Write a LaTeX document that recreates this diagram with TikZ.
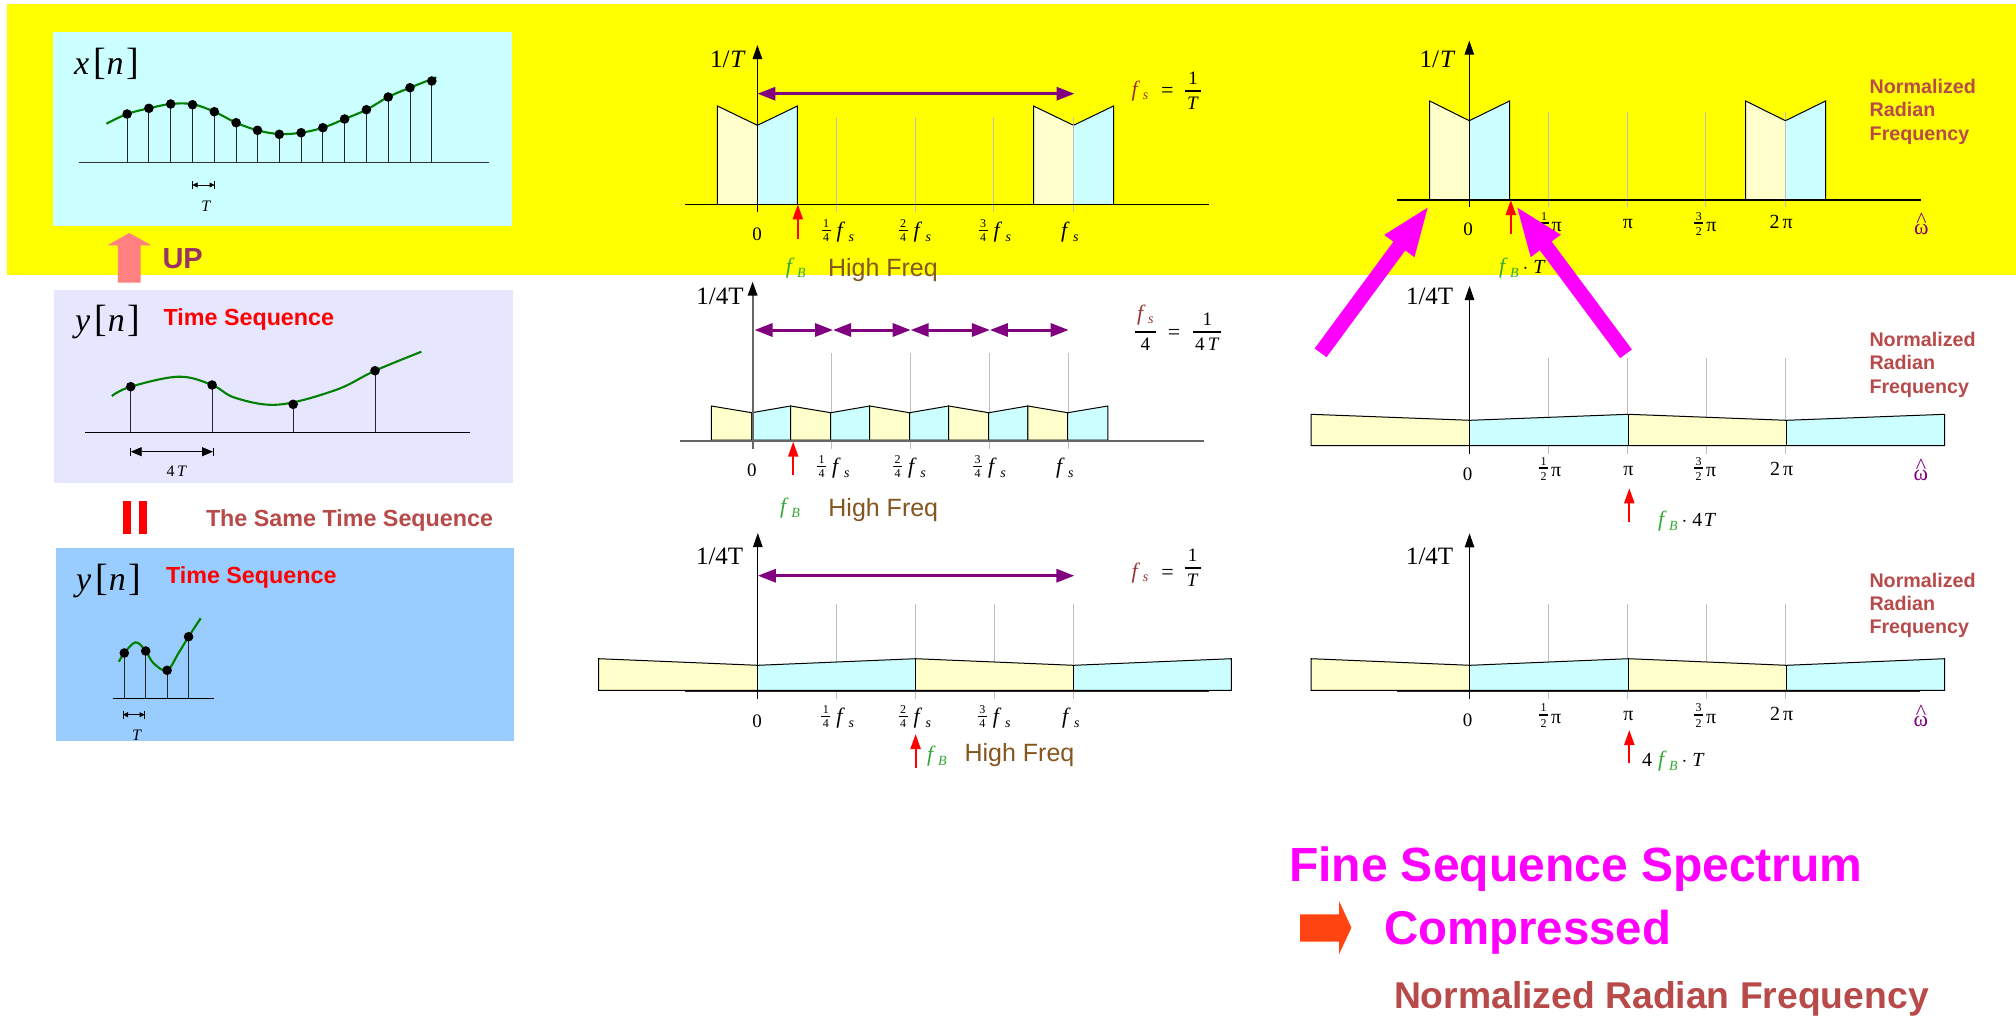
\documentclass[tikz,border=0pt]{standalone}
\usepackage{amsmath}
\usepackage{fontspec}
\setmainfont{Liberation Serif}
\newfontfamily\sansf{Liberation Sans}
\usetikzlibrary{arrows.meta}
\definecolor{band}{HTML}{FFFF00}
\definecolor{pcyan}{HTML}{CCFFFF}
\definecolor{plav}{HTML}{E6E6FF}
\definecolor{pblue}{HTML}{99CCFF}
\definecolor{byel}{HTML}{FFFFCC}
\definecolor{bcyan}{HTML}{CCFFFF}
\definecolor{wine}{HTML}{B84A4A}
\definecolor{brownf}{HTML}{85561F}
\definecolor{fsred}{HTML}{993333}
\definecolor{fbgreen}{HTML}{33A833}
\definecolor{purp}{HTML}{800080}
\definecolor{curvegreen}{HTML}{008000}
\definecolor{uparrow}{HTML}{FF8080}
\definecolor{upword}{HTML}{993366}
\definecolor{magentaX}{HTML}{FF00FF}
\definecolor{orangeX}{HTML}{FF4411}
\newcommand\fz[1]{\fontsize{#1}{#1}\selectfont}
\newcounter{lb}
\newcommand\tl[3][]{\stepcounter{lb}\node[txt,#1] (n\arabic{lb}) at (#2) {#3};}
\newcommand\link[3]{\stepcounter{lb}\coordinate (a\arabic{lb}) at (#2); \coordinate (b\arabic{lb}) at (#3); \draw[#1] (a\arabic{lb}) -- (b\arabic{lb});}
\newcommand\fsub{{\fz{22}\textit{f}}\kern3.5pt\raisebox{-4pt}{\fz{14}\textit{s}}}
\newcommand\fsbig{\color{fsred}\fz{22}\textit{f}\kern2.5pt\raisebox{-3pt}{\fz{14}\textit{s}}}
\newcommand\fB{{\color{fbgreen}{\fz{22}\textit{f}}\kern2.5pt\raisebox{-4pt}{\fz{14}\textit{B}}}}
\newcommand\fr[3][4pt]{\raisebox{#1}{$\genfrac{}{}{1.8pt}{1}{\hbox to 9pt{\hfil\fz{12}#2\hfil}}{\hbox to 9pt{\hfil\fz{12}#3\hfil}}$}}
\newcommand\bigfr[3]{$\genfrac{}{}{1.8pt}{0}{\hbox to #3{\hfil\fz{19}#1\hfil}}{\hbox{\fz{19}#2}}$}
\newcommand\seqname[1]{\fz{34}\textit{#1}\kern4pt{\fz{38}[}\kern1pt\textit{n}\kern3pt{\fz{38}]}}
\newcommand\omhat{\makebox[0pt][l]{\makebox[15pt][c]{\raisebox{6.5pt}{\^{}}}}ω}
\nulldelimiterspace=0pt
\tikzset{
  txt/.style={inner sep=0pt,outer sep=0pt,anchor=base},
  axisline/.style={line width=1pt,-{Triangle[length=14pt,width=9.5pt]}},
  axisgray/.style={line width=2pt,draw=black!60,-{Triangle[length=14pt,width=9.5pt,color=black,fill=black]}},
  baseln/.style={line width=1.2pt,draw=black},
  tickln/.style={line width=1pt,draw=black!25},
  stem/.style={line width=1pt,draw=black!85},
  curveln/.style={line width=2.1pt,draw=curvegreen},
  dotpt/.style={fill=black},
  specyel/.style={draw=black,line width=1pt,fill=byel},
  speccyan/.style={draw=black,line width=1pt,fill=bcyan},
  purparrow/.style={line width=3pt,draw=purp,{Triangle[length=18pt,width=13pt]}-{Triangle[length=18pt,width=13pt]}},
  redarrow/.style={line width=2pt,draw=red,-{Triangle[length=15pt,width=10pt]}},
  bigarrow/.style={line width=14.7pt,draw=magentaX,-{Triangle[length=51pt,width=33pt]}},
  dimsmall/.style={line width=.8pt,draw=black,{Triangle[length=5pt,width=5pt]}-{Triangle[length=5pt,width=5pt]}},
  dimlarge/.style={line width=.8pt,draw=black,{Triangle[length=11pt,width=9pt]}-{Triangle[length=11pt,width=9pt]}},
  sanslabel/.style={font=\sansf\bfseries\fz{23.3},text=red,anchor=base west},
  nrlabel/.style={font=\sansf\bfseries\fz{19.7},text=wine,anchor=base west},
  highfreq/.style={font=\sansf\fz{25},text=brownf,anchor=base west},
  scale label/.style={font=\fz{25},anchor=base west},
  digit/.style={font=\fz{19}},
  west/.style={anchor=base west},
}
\begin{document}
\begin{tikzpicture}[x=1pt,y=-1pt]
\useasboundingbox (0,0) rectangle (2016,1015);
\fill[white] (0,0) rectangle (2016,1015);
\fill[band] (7,4) rectangle (2016,275);
% panels
\fill[pcyan] (52.9,32) rectangle (512,225.5);
\fill[plav] (54,290) rectangle (512.5,483);
\fill[pblue] (55.7,548) rectangle (514.3,741);
% x[n]
\tl[anchor=base west]{74,74}{\seqname{x}}
\draw[line width=1.2pt,draw=black!80] (78.6,162.7) -- (488.6,162.7);
\foreach \px/\py in {127.1/114,148.9/108.3,170.7/104,192.5/104.7,214.3/111.7,236.1/122.7,257.5/130.3,279.3/134.3,301.1/132.7,322.9/127.7,344.6/119,366.4/109.7,388.2/97,410/87.7,431.8/81}{
  \draw[stem] (\px,162.7) -- (\px,\py);
}
\draw[curveln] plot[smooth,tension=.6] coordinates {(106.4,123.7)(127.1,114)(148.9,108.3)(170.7,104)(192.5,104.2)(214.3,111.7)(236.1,122.7)(257.5,130.3)(279.3,134)(301.1,132.7)(322.9,127.7)(344.6,119)(366.4,109.7)(388.2,97)(410,87.7)(436.4,77.3)};
\foreach \px/\py in {127.1/114,148.9/108.3,170.7/104,192.5/104.7,214.3/111.7,236.1/122.7,257.5/130.3,279.3/134.3,301.1/132.7,322.9/127.7,344.6/119,366.4/109.7,388.2/97,410/87.7,431.8/81}{
  \fill[dotpt] (\px,\py) circle (4.8pt);
}
\link{dimsmall}{192.5,185}{214.5,185}
\draw[line width=.8pt] (192.5,181) -- (192.5,189) (214.5,181) -- (214.5,189);
\tl{206.4,211.7}{\fz{16}\textit{T}}
% UP arrow
\fill[uparrow] (117.9,282.7) -- (117.9,245.3) -- (107.5,245.3) -- (129.3,233) -- (151.4,245.3) -- (140.7,245.3) -- (140.7,282.7) -- cycle;
\tl[anchor=base west,font=\sansf\bfseries\fz{29},text=upword]{162.5,268}{UP}
% y[n] first
\tl[anchor=base west]{75,331.7}{\seqname{y}}
\tl[sanslabel]{163.6,325}{Time Sequence}
\draw[line width=1.2pt] (85.4,432.3) -- (470,432.3);
\foreach \px/\py in {130.7/386.7,212.1/385,293.2/404.3,375/370.7}{\draw[stem] (\px,432.3) -- (\px,\py);}
\draw[curveln] plot[smooth,tension=.6] coordinates {(111.8,396)(130.7,386.7)(178.6,376.7)(212.1,385)(235.7,398)(278.6,404.6)(335.7,390)(375,370.7)(421.4,351.7)};
\foreach \px/\py in {130.7/386.7,212.1/385,293.2/404.3,375/370.7}{\fill[dotpt] (\px,\py) circle (4.8pt);}
\link{dimlarge}{130.7,451.7}{213,451.7}
\draw[line width=.8pt] (130.7,447.5) -- (130.7,456) (213,447.5) -- (213,456);
\tl{176.8,476}{\fz{16}4\,\textit{T}}
% equals
\fill[red] (123.2,500.7) rectangle (131.4,534);
\fill[red] (138.6,500.7) rectangle (146.8,534);
\tl[anchor=base west,font=\sansf\bfseries\fz{23.3},text=wine]{206,526.7}{The Same Time Sequence}
% y[n] second
\tl[anchor=base west]{76,590}{\seqname{y}}
\tl[sanslabel]{166,583.3}{Time Sequence}
\draw[line width=1.2pt] (112.5,698.3) -- (213.6,698.3);
\foreach \px/\py in {124.3/653,145.7/651,167.1/670.3,188.6/636.7}{\draw[stem] (\px,698.3) -- (\px,\py);}
\draw[curveln] plot[smooth,tension=.6] coordinates {(118.9,661.7)(124.3,653)(135.7,642.3)(145.7,651)(153.6,663.3)(167.1,670.3)(178.6,653)(188.6,636.7)(200.7,618.3)};
\foreach \px/\py in {124.3/653,145.7/651,167.1/670.3,188.6/636.7}{\fill[dotpt] (\px,\py) circle (4.8pt);}
\link{dimsmall}{123,714.7}{144.6,714.7}
\draw[line width=.8pt] (123,710.5) -- (123,719) (144.6,710.5) -- (144.6,719);
\tl{137,740.7}{\fz{16}\textit{T}}

% ===== middle row 1
\foreach \tx in {836.1,915.2,993.9,1073.5}{\draw[tickln] (\tx,117.3) -- (\tx,212);}
\fill[byel] (717.4,204.3) -- (717.4,106) -- (757.4,125.3) -- (757.4,204.3) -- cycle;
\fill[bcyan] (757.4,204.3) -- (757.4,125.3) -- (797.4,106) -- (797.4,204.3) -- cycle;
\fill[byel] (1033.5,204.3) -- (1033.5,106) -- (1073.5,125.3) -- (1073.5,204.3) -- cycle;
\fill[bcyan] (1073.5,204.3) -- (1073.5,125.3) -- (1113.5,106) -- (1113.5,204.3) -- cycle;
\draw[line width=1pt] (717.4,204.3) -- (717.4,106) -- (757.4,125.3) -- (797.4,106) -- (797.4,204.3);
\draw[line width=1pt] (1033.5,204.3) -- (1033.5,106) -- (1073.5,125.3) -- (1113.5,106) -- (1113.5,204.3);
\draw[tickln] (1073.5,125.3) -- (1073.5,212);
\draw[baseln] (685,204.3) -- (1209,204.3);
\link{axisline}{757.4,212}{757.4,45}
\link{purparrow}{757.4,93.7}{1074.5,93.7}
\tl[scale label]{710,67.3}{1/\kern1pt\textit{T}}
\tl{1140,96}{\fsbig}
\tl{1167.3,97}{\fz{22}=}
\tl{1193,93.2}{\bigfr{1}{\textit{T}}{16pt}}
\tl[digit]{757,240}{0}
\tl[west]{821.5,237}{\fr{1}{4}\kern6pt\fsub}
\tl[west]{898.5,237}{\fr{2}{4}\kern6pt\fsub}
\tl[west]{978.5,237}{\fr{3}{4}\kern6pt\fsub}
\tl[west]{1061,237}{\fsub}
\link{redarrow}{797.8,239}{797.8,204.3}
\tl{795.7,273}{\fB}
\tl[highfreq]{828,276.7}{High Freq}

% ===== middle row 2
\foreach \tx in {831.5,910.3,989.1,1068.3}{\draw[tickln] (\tx,353.3) -- (\tx,449);}
\draw[specyel] (711.3,440) -- (711.3,406) -- (751.8,412.7) -- (751.8,440) -- cycle;
\draw[speccyan] (751.8,440) -- (751.8,412.7) -- (790.5,406) -- (790.5,440) -- cycle;
\draw[specyel] (790.5,440) -- (790.5,406) -- (830.7,412.7) -- (830.7,440) -- cycle;
\draw[speccyan] (830.7,440) -- (830.7,412.7) -- (869.7,406) -- (869.7,440) -- cycle;
\draw[specyel] (869.7,440) -- (869.7,406) -- (909.5,412.7) -- (909.5,440) -- cycle;
\draw[speccyan] (909.5,440) -- (909.5,412.7) -- (948.6,406) -- (948.6,440) -- cycle;
\draw[specyel] (948.6,440) -- (948.6,406) -- (988.7,412.7) -- (988.7,440) -- cycle;
\draw[speccyan] (988.7,440) -- (988.7,412.7) -- (1027.8,406) -- (1027.8,440) -- cycle;
\draw[specyel] (1027.8,440) -- (1027.8,406) -- (1067.6,412.7) -- (1067.6,440) -- cycle;
\draw[speccyan] (1067.6,440) -- (1067.6,412.7) -- (1107.8,406) -- (1107.8,440) -- cycle;
\draw[line width=2pt,draw=black!60] (680.3,440.7) -- (1204.2,440.7);
\link{axisgray}{752.6,449}{752.6,281.7}
\link{purparrow}{754.5,330}{833,330}
\link{purparrow}{833,330}{910.7,330}
\link{purparrow}{910.7,330}{989.9,330}
\link{purparrow}{989.9,330}{1068.7,330}
\tl[scale label]{696.4,304}{1/4T}
\tl{1145.3,334.2}{\bigfr{{\color{fsred}\fz{22}\textit{f}\kern2.5pt\raisebox{-3pt}{\fz{14}\textit{s}}}}{4}{21pt}}
\tl{1174,339}{\fz{22}=}
\tl{1207.3,334.2}{\bigfr{1}{4\,\textit{T}}{28pt}}
\tl[digit]{751.8,476.7}{0}
\tl[west]{817,473}{\fr{1}{4}\kern6pt\fsub}
\tl[west]{893.2,473}{\fr{2}{4}\kern6pt\fsub}
\tl[west]{973.1,473}{\fr{3}{4}\kern6pt\fsub}
\tl[west]{1056,473}{\fsub}
\link{redarrow}{793.2,475}{793.2,441.7}
\tl{790,513}{\fB}
\tl[highfreq]{828.4,516.7}{High Freq}

% ===== middle row 3
\foreach \tx in {836.3,915.2,994.6,1073.5}{\draw[tickln] (\tx,604) -- (\tx,699.3);}
\draw[line width=2pt,draw=black!85] (685,691) -- (1208.8,691);
\fill[byel] (598.6,690.3) -- (598.6,658.7) -- (757.8,665.3) -- (757.8,690.3) -- cycle;
\fill[bcyan] (757.8,690.3) -- (757.8,665.3) -- (915.6,658.7) -- (915.6,690.3) -- cycle;
\fill[byel] (915.6,690.3) -- (915.6,658.7) -- (1073.5,665.3) -- (1073.5,690.3) -- cycle;
\fill[bcyan] (1073.5,690.3) -- (1073.5,665.3) -- (1231.3,658.7) -- (1231.3,690.3) -- cycle;
\draw[line width=1pt] (598.6,690.3) -- (598.6,658.7) -- (757.8,665.3) -- (915.6,658.7) -- (1073.5,665.3) -- (1231.3,658.7) -- (1231.3,690.3) -- cycle;
\draw[line width=1pt] (915.6,658.7) -- (915.6,690.3) (1073.5,665.3) -- (1073.5,690.3);
\link{axisline}{757.8,699.3}{757.8,533}
\link{purparrow}{757.8,575.7}{1074.4,575.7}
\tl[scale label]{696,564}{1/4T}
\tl{1140,578}{\fsbig}
\tl{1167.6,579}{\fz{22}=}
\tl{1192.7,570.2}{\bigfr{1}{\textit{T}}{16pt}}
\tl[digit]{757,727}{0}
\tl[west]{821.4,723}{\fr{1}{4}\kern6pt\fsub}
\tl[west]{898.5,723}{\fr{2}{4}\kern6pt\fsub}
\tl[west]{977.9,723}{\fr{3}{4}\kern6pt\fsub}
\tl[west]{1062,723}{\fsub}
\link{redarrow}{915.6,768.3}{915.6,734}
\tl{936.9,761}{\fB}
\tl[highfreq]{964.6,761.7}{High Freq}

% ===== right row 1
\foreach \tx in {1548.3,1627.3,1705.9,1785.4}{\draw[tickln] (\tx,112.3) -- (\tx,207.3);}
\fill[byel] (1429.6,200) -- (1429.6,101) -- (1469.3,120.7) -- (1469.3,200) -- cycle;
\fill[bcyan] (1469.3,200) -- (1469.3,120.7) -- (1509.5,101) -- (1509.5,200) -- cycle;
\fill[byel] (1745.6,200) -- (1745.6,101) -- (1785.4,120.7) -- (1785.4,200) -- cycle;
\fill[bcyan] (1785.4,200) -- (1785.4,120.7) -- (1825.5,101) -- (1825.5,200) -- cycle;
\draw[line width=1pt] (1429.6,200) -- (1429.6,101) -- (1469.3,120.7) -- (1509.5,101) -- (1509.5,200);
\draw[line width=1pt] (1745.6,200) -- (1745.6,101) -- (1785.4,120.7) -- (1825.5,101) -- (1825.5,200);
\draw[tickln] (1785.4,120.7) -- (1785.4,207.3);
\draw[baseln] (1397,200) -- (1920.6,200);
\link{axisline}{1469.3,207.3}{1469.3,40.7}
\tl[scale label]{1419.7,67.3}{1/\kern1pt\textit{T}}
\tl[nrlabel]{1869.7,93.3}{Normalized}
\tl[nrlabel]{1869.7,116.7}{Radian}
\tl[nrlabel]{1869.7,140}{Frequency}
\tl[digit]{1468,235}{0}
\tl[west,font=\fz{20}]{1539.5,231.7}{\fr[3.2pt]{1}{2}\kern3pt π}
\tl[font=\fz{20}]{1628,228.3}{π}
\tl[west,font=\fz{20}]{1694.3,231.7}{\fr[3.2pt]{3}{2}\kern3pt π}
\tl[west,font=\fz{20}]{1769.6,228.3}{2\kern3pt π}
\tl[west,font=\fz{22},text=purp]{1914,234}{\omhat}
\link{redarrow}{1510.8,234}{1510.8,200}
\tl[west]{1499,273}{\fB\kern4pt{\fz{20}$\cdot$\kern5pt\textit{T}}}

% ===== right row 2
\foreach \tx in {1548,1627,1706,1785}{\draw[tickln] (\tx,358.3) -- (\tx,454);}
\fill[byel] (1311,445.7) -- (1311,414.3) -- (1470,420.3) -- (1470,445.7) -- cycle;
\fill[bcyan] (1470,445.7) -- (1470,420.3) -- (1628.4,414.3) -- (1628.4,445.7) -- cycle;
\fill[byel] (1628.4,445.7) -- (1628.4,414.3) -- (1786.4,420.3) -- (1786.4,445.7) -- cycle;
\fill[bcyan] (1786.4,445.7) -- (1786.4,420.3) -- (1944.5,414.3) -- (1944.5,445.7) -- cycle;
\draw[line width=1pt] (1311,445.7) -- (1311,414.3) -- (1470,420.3) -- (1628.4,414.3) -- (1786.4,420.3) -- (1944.5,414.3) -- (1944.5,445.7) -- cycle;
\draw[line width=1pt] (1628.4,414.3) -- (1628.4,445.7) (1786.4,420.3) -- (1786.4,445.7);
\link{axisline}{1469.5,454}{1469.5,286}
\tl[scale label]{1406,304}{1/4T}
\tl[nrlabel]{1869.5,346.3}{Normalized}
\tl[nrlabel]{1869.5,369.7}{Radian}
\tl[nrlabel]{1869.5,393}{Frequency}
\tl[digit]{1467.7,480}{0}
\tl[west,font=\fz{20}]{1539,476.7}{\fr[3.2pt]{1}{2}\kern3pt π}
\tl[font=\fz{20}]{1628.4,475.7}{π}
\tl[west,font=\fz{20}]{1694,476.7}{\fr[3.2pt]{3}{2}\kern3pt π}
\tl[west,font=\fz{20}]{1770,475}{2\kern3pt π}
\tl[west,font=\fz{22},text=purp]{1913.5,480}{\omhat}
\link{redarrow}{1629.3,522.3}{1629.3,488.3}
\tl[west]{1658,526}{\fB\kern4pt{\fz{20}$\cdot$\kern5pt4\kern1.5pt\textit{T}}}

% ===== right row 3
\foreach \tx in {1548,1627,1706,1785}{\draw[tickln] (\tx,604) -- (\tx,699.3);}
\draw[line width=2pt,draw=black!85] (1397,691) -- (1920.4,691);
\fill[byel] (1311,690.3) -- (1311,658.7) -- (1470,665.3) -- (1470,690.3) -- cycle;
\fill[bcyan] (1470,690.3) -- (1470,665.3) -- (1628.4,658.7) -- (1628.4,690.3) -- cycle;
\fill[byel] (1628.4,690.3) -- (1628.4,658.7) -- (1786.4,665.3) -- (1786.4,690.3) -- cycle;
\fill[bcyan] (1786.4,690.3) -- (1786.4,665.3) -- (1944.5,658.7) -- (1944.5,690.3) -- cycle;
\draw[line width=1pt] (1311,690.3) -- (1311,658.7) -- (1470,665.3) -- (1628.4,658.7) -- (1786.4,665.3) -- (1944.5,658.7) -- (1944.5,690.3) -- cycle;
\draw[line width=1pt] (1628.4,658.7) -- (1628.4,690.3) (1786.4,665.3) -- (1786.4,690.3);
\link{axisline}{1469.5,699.3}{1469.5,533.3}
\tl[scale label]{1406,564}{1/4T}
\tl[nrlabel]{1869.5,587}{Normalized}
\tl[nrlabel]{1869.5,610.3}{Radian}
\tl[nrlabel]{1869.5,633.7}{Frequency}
\tl[digit]{1467.7,726.7}{0}
\tl[west,font=\fz{20}]{1539,723.3}{\fr[3.2pt]{1}{2}\kern3pt π}
\tl[font=\fz{20}]{1628.4,720}{π}
\tl[west,font=\fz{20}]{1694,723.3}{\fr[3.2pt]{3}{2}\kern3pt π}
\tl[west,font=\fz{20}]{1770,720}{2\kern3pt π}
\tl[west,font=\fz{22},text=purp]{1913.5,726}{\omhat}
\link{redarrow}{1629.3,763.3}{1629.3,730}
\tl[west]{1642,766}{\fz{20}4\kern6pt\fB\kern4pt$\cdot$\kern5pt\textit{T}}

% magenta arrows
\link{bigarrow}{1320.6,352.8}{1429.6,205}
\link{bigarrow}{1626,353.8}{1515.3,205}

% bottom text
\tl[anchor=base west,font=\sansf\bfseries\fz{48},text=magentaX]{1289,881.7}{Fine Sequence Spectrum}
\fill[orangeX] (1300,914.3) -- (1339,914.3) -- (1339,901) -- (1351.4,927.7) -- (1339,954.3) -- (1339,941.7) -- (1300,941.7) -- cycle;
\tl[anchor=base west,font=\sansf\bfseries\fz{47.4},text=magentaX]{1384,944.3}{Compressed}
\tl[anchor=base west,font=\sansf\bfseries\fz{37.3},text=wine]{1394,1008.3}{Normalized Radian Frequency}
\end{tikzpicture}
\end{document}
